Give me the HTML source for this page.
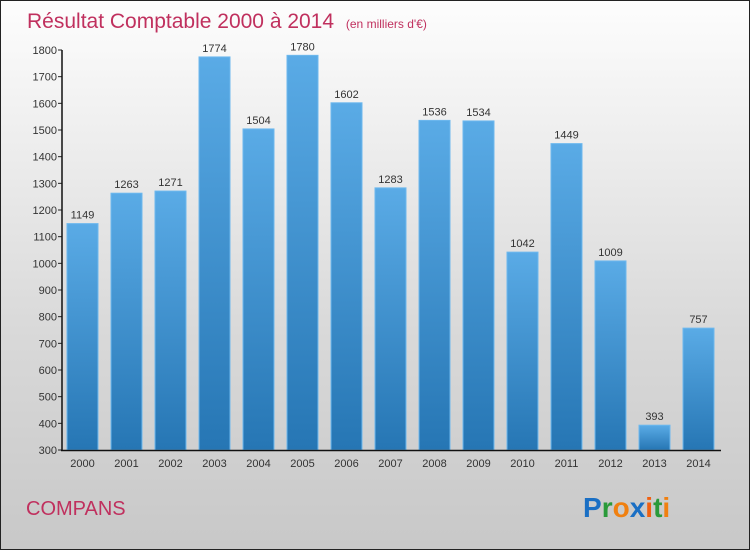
<!DOCTYPE html>
<html><head><meta charset="utf-8"><style>
body{margin:0;}
#c{width:748px;height:548px;border:1px solid #222;background:linear-gradient(#fdfdfd,#d9d9d9 60%,#c8c8c8);position:relative;font-family:"Liberation Sans",sans-serif;overflow:hidden}
</style></head><body>
<div id="c">
<svg id="s" width="748" height="548">
<defs><linearGradient id="g" x1="0" y1="0" x2="0" y2="1"><stop offset="0" stop-color="#5aabe6"/><stop offset="1" stop-color="#2676b4"/></linearGradient></defs>
<text x="26" y="27" font-size="21" fill="#c0305e">Résultat Comptable 2000 à 2014 <tspan font-size="12" dx="6">(en milliers d'€)</tspan></text>
<text x="25" y="514" font-size="20" fill="#c0305e">COMPANS</text>
<text x="582" y="516" font-size="28" font-weight="bold"><tspan fill="#1a6fc4">P</tspan><tspan fill="#2a9a3a">r</tspan><tspan fill="#f08010">o</tspan><tspan fill="#1a6fc4">x</tspan><tspan fill="#f06010">i</tspan><tspan fill="#2a9a3a">t</tspan><tspan fill="#f08010">i</tspan></text>
<g id="plot"></g>
</svg></div>
<script>
const categories=["2000","2001","2002","2003","2004","2005","2006","2007","2008","2009","2010","2011","2012","2013","2014"];
const values=[1149,1263,1271,1774,1504,1780,1602,1283,1536,1534,1042,1449,1009,393,757];
const yTicks=[300,400,500,600,700,800,900,1000,1100,1200,1300,1400,1500,1600,1700,1800];
const NS="http://www.w3.org/2000/svg";
const g=document.getElementById('plot');
const y=v=>449-(v-300)*400/1500;
const x=i=>66+i*44;
function mk(t,a){const e=document.createElementNS(NS,t);for(const k in a)e.setAttribute(k,a[k]);g.appendChild(e);return e;}
yTicks.forEach(v=>{
 const l=mk('line',{x1:57,x2:61,y1:y(v),y2:y(v),stroke:'#222'});
 
 
 const t=mk('text',{x:56,y:y(v)+4,'font-size':11,'text-anchor':'end',fill:'#333'});t.textContent=v;
 
 
});
values.forEach((v,i)=>{
 const r=mk('rect',{x:x(i),y:y(v),width:31,height:y(300)-y(v),fill:'url(#g)',stroke:'#6db8ee','stroke-width':1});
 
 
 const t=mk('text',{x:x(i)+15.5,y:y(v)-5,'font-size':11,'text-anchor':'middle',fill:'#333'});t.textContent=v;
 
 
 const c=mk('text',{x:x(i)+15.5,y:466,'font-size':11,'text-anchor':'middle',fill:'#333'});c.textContent=categories[i];
 
 
});
const ya=mk('line',{x1:61,x2:61,y1:49,y2:450,stroke:'#111','stroke-width':1.5});


const xa=mk('line',{x1:60,x2:720,y1:449.5,y2:449.5,stroke:'#111','stroke-width':1.5});


</script>
</body></html>
